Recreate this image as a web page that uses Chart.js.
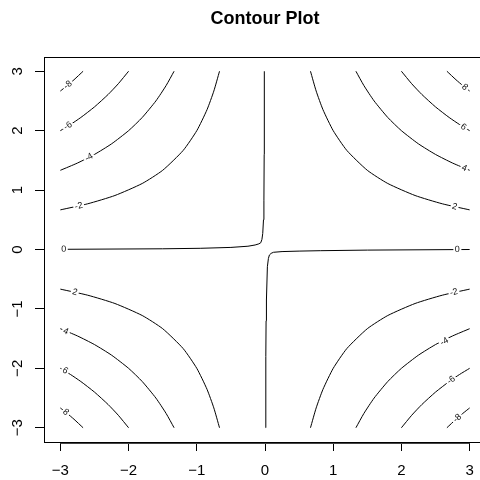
<!DOCTYPE html>
<html>
<head>
<meta charset="utf-8">
<script src="https://cdn.jsdelivr.net/npm/chart.js@4/dist/chart.umd.min.js"></script>
<style>
  html, body { margin: 0; padding: 0; background: #fff; overflow: hidden; }
  #wrap { width: 500px; height: 480px; }
</style>
</head>
<body>
<div id="wrap"><canvas id="contourChart" width="500" height="480"></canvas></div>
<script>
// axis ticks
const xTicks = [-3, -2, -1, 0, 1, 2, 3];
const yTicks = [-3, -2, -1, 0, 1, 2, 3];

// contour lines read off the upper right quadrant (|level| = 2, 4, 6, 8),
// the other quadrants are the same curves with the signs flipped
const curve2x = [0.667, 0.75, 0.85, 1.0, 1.2, 1.5, 1.8, 2.2, 2.6, 3.0];
const curve2y = [3.0, 2.667, 2.353, 2.0, 1.667, 1.333, 1.111, 0.909, 0.769, 0.667];
const curve4x = [1.333, 1.45, 1.6, 1.8, 2.0, 2.25, 2.5, 2.75, 3.0];
const curve4y = [3.0, 2.759, 2.5, 2.222, 2.0, 1.778, 1.6, 1.455, 1.333];
const curve6x = [2.0, 2.15, 2.3, 2.5, 2.7, 2.85, 3.0];
const curve6y = [3.0, 2.791, 2.609, 2.4, 2.222, 2.105, 2.0];
const curve8x = [2.667, 2.8, 2.9, 3.0];
const curve8y = [3.0, 2.857, 2.759, 2.667];

// zero level (two branches with the kink near the origin)
const zeroAx = [-3, -1.5, -0.95, -0.5, -0.25, -0.145, -0.09, -0.062, -0.045, -0.033, -0.022, -0.016, -0.012, -0.01];
const zeroAy = [0.003, 0.012, 0.02, 0.035, 0.055, 0.076, 0.095, 0.114, 0.17, 0.27, 0.5, 0.83, 1.6, 3];
const zeroBx = [0.01, 0.012, 0.016, 0.021, 0.035, 0.05, 0.065, 0.09, 0.124, 0.25, 0.5, 0.81, 1.5, 3];
const zeroBy = [-3, -1.8, -1.2, -0.85, -0.29, -0.15, -0.092, -0.065, -0.047, -0.035, -0.027, -0.02, -0.01, 0];

// contour labels
const labelText = ['-8', '-6', '-4', '-2', '8', '6', '4', '2', '2', '4', '6', '8', '-2', '-4', '-6', '-8', '0', '0'];
const labelX = [-2.89, -2.89, -2.58, -2.73, 2.93, 2.91, 2.92, 2.78, -2.79, -2.92, -2.93, -2.92, 2.77, 2.63, 2.73, 2.82, -2.95, 2.82];
const labelY = [2.77, 2.08, 1.55, 0.73, 2.73, 2.06, 1.37, 0.72, -0.72, -1.38, -2.04, -2.74, -0.72, -1.55, -2.2, -2.84, 0.003, -0.002];

const font = '"Liberation Sans", Arial, Helvetica, sans-serif';

function pts(xs, ys, sx, sy) {
  return xs.map((x, i) => ({ x: sx * x, y: sy * ys[i] }));
}

const curves = [[curve2x, curve2y], [curve4x, curve4y], [curve6x, curve6y], [curve8x, curve8y]];
const datasets = [];
curves.forEach(([cx, cy]) => {
  [[1, 1], [-1, -1], [-1, 1], [1, -1]].forEach(([sx, sy]) => {
    datasets.push({ data: pts(cx, cy, sx, sy), tension: 0.2 });
  });
});
datasets.push({ data: pts(zeroAx, zeroAy, 1, 1), tension: 0 });
datasets.push({ data: pts(zeroBx, zeroBy, 1, 1), tension: 0 });
datasets.forEach(d => {
  d.showLine = true;
  d.borderColor = '#000';
  d.borderWidth = 1;
  d.pointRadius = 0;
  d.fill = false;
});

// box, title, y tick labels and the contour labels
const decor = {
  id: 'decor',
  afterDatasetsDraw(chart) {
    const ctx = chart.ctx;
    const xs = chart.scales.x, ys = chart.scales.y;

    ctx.save();
    ctx.font = '9px ' + font;
    ctx.textAlign = 'center';
    ctx.textBaseline = 'middle';
    labelText.forEach((t, i) => {
      const px = xs.getPixelForValue(labelX[i]);
      const py = ys.getPixelForValue(labelY[i]);
      // direction of the nearest line
      let best = null, bd = Infinity;
      chart.data.datasets.forEach((d, di) => {
        const els = chart.getDatasetMeta(di).data;
        els.forEach((p, j) => {
          const dd = (p.x - px) ** 2 + (p.y - py) ** 2;
          if (dd < bd) { bd = dd; best = { els, j }; }
        });
      });
      let ang = 0;
      if (best) {
        const a = best.els[Math.max(0, best.j - 1)];
        const b = best.els[Math.min(best.els.length - 1, best.j + 1)];
        ang = Math.atan2(b.y - a.y, b.x - a.x);
        if (ang > Math.PI / 2) ang -= Math.PI;
        if (ang <= -Math.PI / 2) ang += Math.PI;
      }
      const w = ctx.measureText(t).width + 3;
      ctx.save();
      ctx.translate(px, py);
      ctx.rotate(ang);
      ctx.fillStyle = '#fff';
      ctx.fillRect(-w / 2, -4, w, 8);
      ctx.fillStyle = '#111';
      ctx.fillText(t, 0, 0);
      ctx.restore();
    });
    ctx.restore();
  },
  afterDraw(chart) {
    const ctx = chart.ctx;
    const area = chart.chartArea;
    const xs = chart.scales.x, ys = chart.scales.y;
    ctx.save();
    ctx.strokeStyle = '#000';
    ctx.lineWidth = 1;
    ctx.strokeRect(area.left + 0.5, area.top + 0.5, area.right - area.left, area.bottom - area.top);
    // x axis line from first to last tick
    ctx.strokeStyle = '#444';
    ctx.beginPath();
    ctx.moveTo(xs.getPixelForValue(xTicks[0]), area.bottom + 1.5);
    ctx.lineTo(xs.getPixelForValue(xTicks[xTicks.length - 1]), area.bottom + 1.5);
    ctx.stroke();

    ctx.fillStyle = '#000';
    ctx.font = 'bold 18px ' + font;
    ctx.textAlign = 'center';
    ctx.textBaseline = 'middle';
    ctx.fillText('Contour Plot', (area.left + area.right) / 2, 19);

    ctx.font = '15px ' + font;
    ys.ticks.forEach(t => {
      const py = ys.getPixelForValue(t.value);
      ctx.save();
      ctx.translate(18, py);
      ctx.rotate(-Math.PI / 2);
      ctx.fillText(String(t.value).replace('-', '\u2212'), 0, 0);
      ctx.restore();
    });
    ctx.restore();
  }
};

const ctx = document.getElementById('contourChart').getContext('2d');
new Chart(ctx, {
  type: 'scatter',
  data: { datasets },
  options: {
    responsive: false,
    animation: false,
    devicePixelRatio: 1,
    layout: { padding: { left: 0, top: 57, right: 14, bottom: 0 } },
    plugins: { legend: { display: false }, tooltip: { enabled: false }, title: { display: false } },
    scales: {
      x: {
        type: 'linear',
        min: -3.24,
        max: 3.24,
        afterBuildTicks: s => { s.ticks = xTicks.map(v => ({ value: v })); },
        afterFit: s => { s.height = 38; },
        border: { display: false },
        grid: { drawOnChartArea: false, drawTicks: true, tickLength: 9, tickColor: '#000', color: '#000' },
        ticks: {
          color: '#000',
          font: { family: font, size: 15 },
          padding: 11,
          maxRotation: 0,
          callback: v => String(v).replace('-', '\u2212')
        }
      },
      y: {
        type: 'linear',
        min: -3.24,
        max: 3.24,
        afterBuildTicks: s => { s.ticks = yTicks.map(v => ({ value: v })); },
        afterFit: s => { s.width = 44; },
        border: { display: false },
        grid: { drawOnChartArea: false, drawTicks: true, tickLength: 9, tickColor: '#000', color: '#000' },
        ticks: { color: 'rgba(0,0,0,0)', font: { family: font, size: 15 }, padding: 2 }
      }
    }
  },
  plugins: [decor]
});
</script>
</body>
</html>
